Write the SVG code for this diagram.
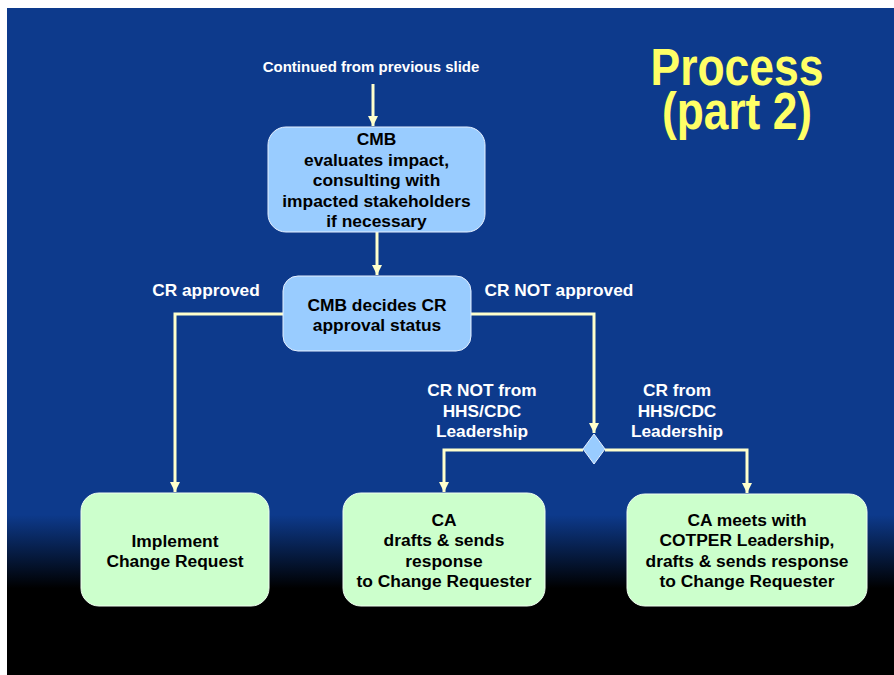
<svg xmlns="http://www.w3.org/2000/svg" width="894" height="675" viewBox="0 0 894 675">
<defs>
<linearGradient id="bg" x1="0" y1="0" x2="0" y2="1">
<stop offset="0" stop-color="#0d3a8c"/>
<stop offset="0.76" stop-color="#0d3a8c"/>
<stop offset="0.87" stop-color="#000000"/>
<stop offset="1" stop-color="#000000"/>
</linearGradient>
<marker id="ah" viewBox="0 0 10 10" refX="10" refY="5" markerWidth="10" markerHeight="11" markerUnits="userSpaceOnUse" orient="auto">
<path d="M0,0 L10,5 L0,10 Z" fill="#ffffcc"/>
</marker>
<style>
.conn{fill:none;stroke:#ffffcc;stroke-width:3;}
.blue{fill:#99ccff;stroke:#e6f0ff;stroke-width:1;}
.green{fill:#ccffcc;stroke:#f0fff0;stroke-width:1;}
.bt{font-family:"Liberation Sans",Arial,sans-serif;font-weight:bold;font-size:17.4px;fill:#000;text-anchor:middle;}
.lbl{font-family:"Liberation Sans",Arial,sans-serif;font-weight:bold;font-size:17.3px;fill:#ffffff;text-anchor:middle;}
.title{font-family:"Liberation Sans",Arial,sans-serif;font-weight:bold;font-size:51px;fill:#ffff66;text-anchor:middle;}
</style>
</defs>
<rect x="0" y="0" width="894" height="675" fill="#ffffff"/>
<rect x="7" y="8" width="887" height="667" fill="url(#bg)"/>

<g id="title">
<text class="title" x="737" y="85" textLength="173" lengthAdjust="spacingAndGlyphs">Process</text>
<text class="title" x="737" y="129" textLength="150" lengthAdjust="spacingAndGlyphs">(part 2)</text>
</g>

<g id="connectors">
<line class="conn" x1="373" y1="84" x2="373" y2="126" marker-end="url(#ah)"/>
<line class="conn" x1="377" y1="232" x2="377" y2="275" marker-end="url(#ah)"/>
<polyline class="conn" points="283,314 175,314 175,492" marker-end="url(#ah)"/>
<polyline class="conn" points="471,314 594,314 594,433" marker-end="url(#ah)"/>
<polyline class="conn" points="583,450 444,450 444,492" marker-end="url(#ah)"/>
<polyline class="conn" points="605,450 747,450 747,493" marker-end="url(#ah)"/>
</g>

<g id="start-label">
<text class="lbl" x="371" y="72" style="font-size:15px">Continued from previous slide</text>
</g>

<g id="edge-labels">
<text class="lbl" x="206" y="296">CR approved</text>
<text class="lbl" x="559" y="296">CR NOT approved</text>
<text class="lbl" x="482" y="396">CR NOT from</text>
<text class="lbl" x="482" y="417">HHS/CDC</text>
<text class="lbl" x="482" y="437">Leadership</text>
<text class="lbl" x="677" y="396">CR from</text>
<text class="lbl" x="677" y="417">HHS/CDC</text>
<text class="lbl" x="677" y="437">Leadership</text>
</g>

<g id="cmb-evaluates">
<rect class="blue" x="268" y="127" width="217" height="105" rx="18"/>
<text class="bt" x="376.5" y="145">CMB</text>
<text class="bt" x="376.5" y="165.5">evaluates impact,</text>
<text class="bt" x="376.5" y="186">consulting with</text>
<text class="bt" x="376.5" y="206.5">impacted stakeholders</text>
<text class="bt" x="376.5" y="227">if necessary</text>
</g>

<g id="cmb-decides">
<rect class="blue" x="283" y="276" width="188" height="75" rx="15"/>
<text class="bt" x="377" y="311">CMB decides CR</text>
<text class="bt" x="377" y="331">approval status</text>
</g>

<g id="decision">
<polygon class="blue" points="594,434 605,449 594,464 583,449"/>
</g>

<g id="implement">
<rect class="green" x="81" y="493" width="188" height="113" rx="18"/>
<text class="bt" x="175" y="547">Implement</text>
<text class="bt" x="175" y="567">Change Request</text>
</g>

<g id="ca-drafts">
<rect class="green" x="343" y="493" width="202" height="113" rx="18"/>
<text class="bt" x="444" y="526">CA</text>
<text class="bt" x="444" y="546">drafts &amp; sends</text>
<text class="bt" x="444" y="566.5">response</text>
<text class="bt" x="444" y="587">to Change Requester</text>
</g>

<g id="ca-meets">
<rect class="green" x="627" y="494" width="240" height="112" rx="18"/>
<text class="bt" x="747" y="526">CA meets with</text>
<text class="bt" x="747" y="546">COTPER Leadership,</text>
<text class="bt" x="747" y="567">drafts &amp; sends response</text>
<text class="bt" x="747" y="587">to Change Requester</text>
</g>
</svg>
